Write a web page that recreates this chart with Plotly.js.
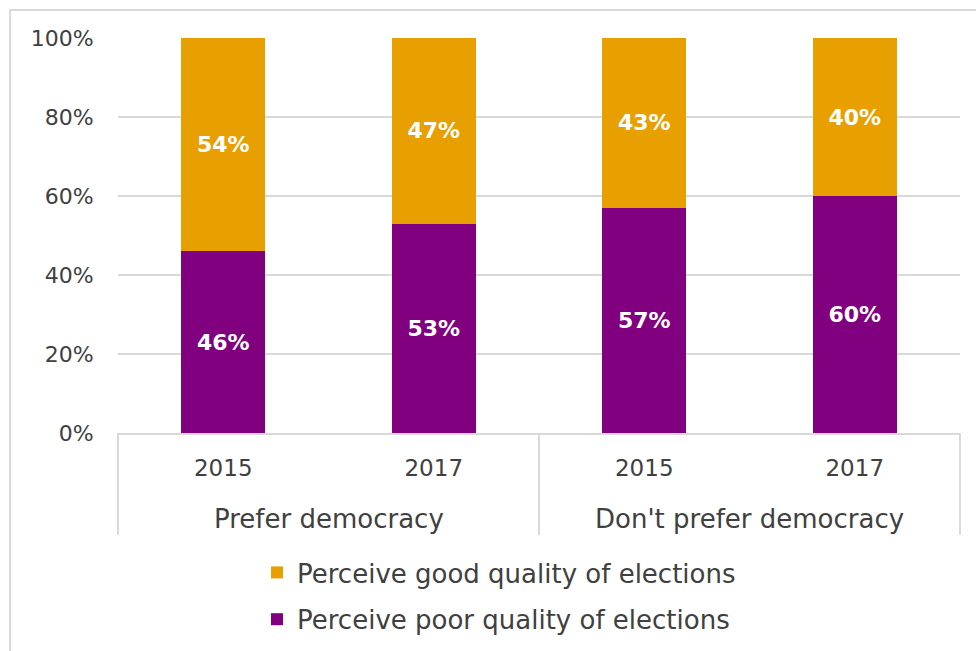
<!DOCTYPE html>
<html>
<head>
<meta charset="utf-8">
<script src="https://cdn.plot.ly/plotly-3.0.1.min.js"></script>
<style>html,body{margin:0;padding:0;background:#fff;}#chart{width:976px;height:651px;}</style>
</head>
<body>
<div id="chart"></div>
<script>
const groupNames = ['Prefer democracy', "Don't prefer democracy"];
const groups = ['Prefer democracy', 'Prefer democracy', "Don't prefer democracy", "Don't prefer democracy"];
const years = ['2015', '2017', '2015', '2017'];
const poorValues = [46, 53, 57, 60];
const goodValues = [54, 47, 43, 40];
const seriesNames = ['Perceive poor quality of elections', 'Perceive good quality of elections'];
const yTickVals = [0, 20, 40, 60, 80, 100];
const yTickText = yTickVals.map(v => v + '%');

const keys = groups.map((g, i) => g + ' ' + years[i]);

const FONT = '"DejaVu Sans", sans-serif';
const TXT = '#404040';
const GRID = '#d9d9d9';

function mk(vals, name, color, grp, rank) {
  return {
    type: 'bar',
    x: keys,
    y: vals,
    text: vals.map(v => v + '%'),
    texttemplate: '%{text}',
    textposition: 'inside',
    insidetextanchor: 'middle',
    textangle: 0,
    constraintext: 'none',
    textfont: {family: FONT, size: 22, color: '#ffffff', weight: 'bold'},
    name: name,
    marker: {color: color},
    legendgroup: grp,
    legendrank: rank,
    hoverinfo: 'skip'
  };
}

const traces = [
  mk(poorValues, seriesNames[0], '#800080', 'poor', 2),
  mk(goodValues, seriesNames[1], '#E89F00', 'good', 1)
];

const ML = 118, MR = 16, MT = 38, MB = 218, W = 976, H = 651;
const PW = W - ML - MR, PH = H - MT - MB;
const py = px => (H - MB - px) / PH;
const pxX = px => (px - ML) / PW;

const annotations = [0.25, 0.75].map((x, i) => ({
  xref: 'paper', yref: 'paper', x: x, y: py(519), xanchor: 'center', yanchor: 'middle',
  text: groupNames[i], showarrow: false, font: {family: FONT, size: 26, color: TXT}
}));

const shapes = [0, 0.5, 1].map(x => ({
  type: 'line', xref: 'paper', yref: 'paper', x0: x, x1: x, y0: py(535), y1: 0,
  line: {color: GRID, width: 2}
}));
shapes.push({
  type: 'rect', xref: 'paper', yref: 'paper',
  x0: pxX(10), x1: pxX(990), y0: py(700), y1: py(10),
  line: {color: GRID, width: 2}, fillcolor: 'rgba(0,0,0,0)', layer: 'below'
});

const layout = {
  width: W, height: H,
  margin: {l: ML, r: MR, t: MT, b: MB, autoexpand: false},
  paper_bgcolor: '#ffffff', plot_bgcolor: '#ffffff',
  barmode: 'stack',
  bargap: 0.6,
  font: {family: FONT, size: 22, color: TXT},
  xaxis: {
    type: 'category',
    tickvals: keys,
    ticktext: years,
    showline: true, linecolor: GRID, linewidth: 2,
    showgrid: false,
    ticks: '',
    ticklabelstandoff: 13,
    tickfont: {family: FONT, size: 23, color: TXT},
    fixedrange: true
  },
  yaxis: {
    range: [0, 100],
    tickvals: yTickVals,
    ticktext: yTickText,
    showgrid: true, gridcolor: GRID, gridwidth: 2,
    zeroline: false, showline: false,
    ticks: 'outside', ticklen: 19, tickcolor: 'rgba(0,0,0,0)',
    tickfont: {family: FONT, size: 22, color: TXT},
    fixedrange: true
  },
  showlegend: true,
  legend: {
    orientation: 'v',
    traceorder: 'grouped',
    tracegroupgap: 10,
    x: pxX(257), xanchor: 'left',
    y: py(549), yanchor: 'top',
    font: {family: FONT, size: 26, color: TXT},
    bgcolor: 'rgba(0,0,0,0)'
  },
  annotations: annotations,
  shapes: shapes
};

Plotly.newPlot('chart', traces, layout, {displayModeBar: false, staticPlot: true});
</script>
</body>
</html>
